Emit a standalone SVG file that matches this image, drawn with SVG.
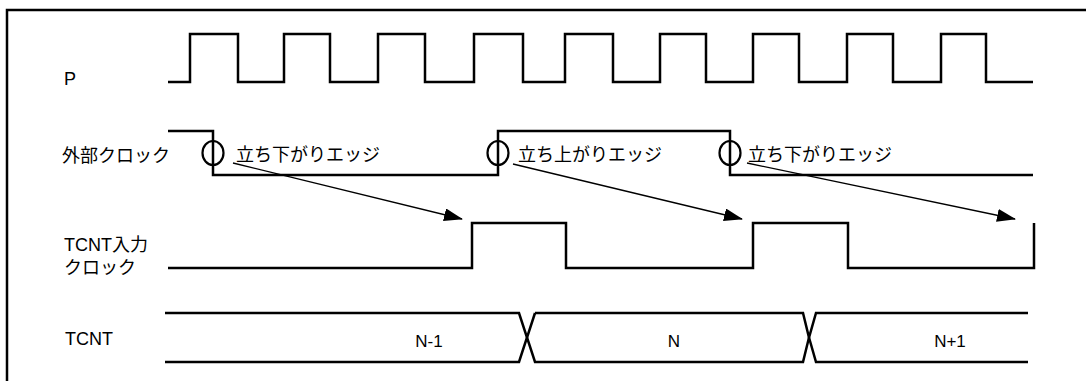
<svg xmlns="http://www.w3.org/2000/svg" width="1086" height="381" viewBox="0 0 1086 381">
<style>
.w{fill:none;stroke:#000;stroke-width:2.5;stroke-linejoin:miter}
.a{fill:none;stroke:#000;stroke-width:1.3}
.lbl{font-family:"Liberation Sans","Noto Sans CJK JP",sans-serif;font-size:18px;fill:#000}
.val{font-family:"Liberation Sans","Noto Sans CJK JP",sans-serif;font-size:17px;fill:#000;text-anchor:middle}
.c{fill:none;stroke:#000;stroke-width:2.2}
</style>
<defs>
<marker id="ah" markerWidth="19" markerHeight="13" refX="18" refY="6.5" orient="auto" markerUnits="userSpaceOnUse">
<path d="M0,0 L19,6.5 L0,13 Z" fill="#000"/>
</marker>
</defs>
<rect width="1086" height="381" fill="#fff"/>
<g id="frame">
<path d="M1086,10 H7 V381" fill="none" stroke="#000" stroke-width="2.5"/>
</g>
<g id="labels">
<text class="lbl" x="64" y="85">P</text>
<text class="lbl" x="62" y="162">外部クロック</text>
<text class="lbl" x="64" y="251">TCNT入力</text>
<text class="lbl" x="64" y="274">クロック</text>
<text class="lbl" x="65" y="345">TCNT</text>
</g>
<g id="signal-P">
<path class="w" d="M168,82 H190 V34 H238 V82 H284 V34 H330 V82 H378 V34 H425 V82 H474 V34 H523 V82 H565 V34 H613 V82 H660 V34 H706 V82 H753 V34 H799 V82 H847 V34 H893 V82 H941 V34 H986 V82 H1033"/>
</g>
<g id="signal-ext">
<path class="w" d="M168,131 H213 V175 H498 V131 H730 V175 H1033"/>
<ellipse class="c" cx="213" cy="153" rx="10.5" ry="12"/>
<ellipse class="c" cx="498" cy="153" rx="10.5" ry="12"/>
<ellipse class="c" cx="730" cy="153" rx="10.5" ry="12"/>
<text class="lbl" x="236" y="161">立ち下がりエッジ</text>
<text class="lbl" x="518" y="161">立ち上がりエッジ</text>
<text class="lbl" x="748" y="161">立ち下がりエッジ</text>
</g>
<g id="signal-tcnt-clk">
<path class="w" d="M168,268 H472 V223 H566 V268 H753 V223 H848 V268 H1034 V223"/>
</g>
<g id="signal-tcnt">
<path class="w" d="M165,313 H519 L527,337.5 L519,362 H165"/>
<path class="w" d="M535,313 L527,337.5 L535,362 H803 L809,337.5 L803,362"/>
<path class="w" d="M535,313 H803 L809,337.5 L816,313 H1028"/>
<path class="w" d="M809,337.5 L816,362 H1028"/>
<text class="val" x="429" y="347">N-1</text>
<text class="val" x="674" y="347">N</text>
<text class="val" x="950" y="347">N+1</text>
</g>
<g id="connectors">
<line class="a" x1="233" y1="163" x2="462" y2="219" marker-end="url(#ah)"/>
<line class="a" x1="513" y1="164" x2="742" y2="219" marker-end="url(#ah)"/>
<line class="a" x1="747" y1="163" x2="1015" y2="219" marker-end="url(#ah)"/>
</g>
</svg>
